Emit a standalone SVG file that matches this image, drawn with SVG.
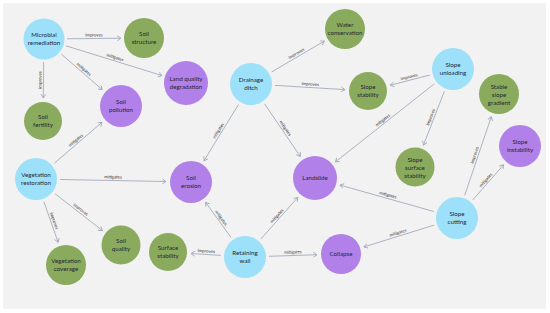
<svg xmlns="http://www.w3.org/2000/svg" width="550" height="313" viewBox="0 0 550 313">
<style>
.c{fill:#9de0f9}.g{fill:#8aab5e}.p{fill:#b180e9}
.n{font-family:Lato,"Open Sans","Liberation Sans",sans-serif;font-size:6.2px;fill:#1f2630;text-anchor:middle}
.e line{stroke:#a3aabb;stroke-width:0.9;marker-end:url(#ah)}
.l{font-family:Lato,"Open Sans","Liberation Sans",sans-serif;font-size:4.4px;fill:#333;text-anchor:middle}
</style>
<defs>
<marker id="ah" markerUnits="userSpaceOnUse" markerWidth="8" markerHeight="8" refX="4.2" refY="3" orient="auto">
<path d="M0.5,0.6 L4.2,3 L0.5,5.4" fill="none" stroke="#a3aabb" stroke-width="0.9"/>
</marker>
</defs>
<rect x="0" y="0" width="550" height="313" fill="#ffffff"/>
<rect x="3" y="3" width="543" height="306" fill="#f2f2f2"/>
<g id="connectors" class="e">
<line x1="67" y1="38.8" x2="121" y2="38.2"/>
<line x1="66" y1="45.8" x2="162" y2="75.6"/>
<line x1="61.3" y1="54.1" x2="102.2" y2="89.6"/>
<line x1="43.7" y1="62" x2="43.3" y2="98"/>
<line x1="54.2" y1="163.4" x2="102" y2="122.3"/>
<line x1="60" y1="179.5" x2="166" y2="181.5"/>
<line x1="55" y1="193.7" x2="102.4" y2="230.6"/>
<line x1="43.9" y1="201.7" x2="58.1" y2="242.3"/>
<line x1="271.7" y1="71.9" x2="324.3" y2="41.1"/>
<line x1="275" y1="85.4" x2="345" y2="89.6"/>
<line x1="238.5" y1="104.5" x2="204" y2="160.7"/>
<line x1="264.5" y1="103.8" x2="300.4" y2="156.5"/>
<line x1="429.8" y1="75" x2="390.3" y2="85.2"/>
<line x1="434.2" y1="83.9" x2="335.4" y2="161.9"/>
<line x1="444.3" y1="91.4" x2="423.5" y2="145.1"/>
<line x1="464.7" y1="195.3" x2="491.3" y2="116.7"/>
<line x1="472.8" y1="199.9" x2="503.6" y2="164.8"/>
<line x1="433.9" y1="211.5" x2="340" y2="185.1"/>
<line x1="434.1" y1="225.1" x2="363.9" y2="246.9"/>
<line x1="231" y1="237.5" x2="205.6" y2="202.3"/>
<line x1="260.9" y1="239" x2="297.8" y2="197.4"/>
<line x1="221" y1="255.4" x2="191" y2="253.5"/>
<line x1="269" y1="256.3" x2="317" y2="254.7"/>
<g id="edge-labels">
<text class="l" transform="translate(94,38.5) rotate(-0.6)" y="-2">improves</text>
<text class="l" transform="translate(114,60.7) rotate(17.2)" y="-2">mitigates</text>
<text class="l" transform="translate(81.7,71.9) rotate(41)" y="-2">mitigates</text>
<text class="l" transform="translate(43.5,80) rotate(-89.3)" y="-2">improves</text>
<text class="l" transform="translate(78.1,142.9) rotate(-40.65)" y="-2">mitigates</text>
<text class="l" transform="translate(113,180.5) rotate(1.1)" y="-2">mitigates</text>
<text class="l" transform="translate(78.7,212.2) rotate(37.8)" y="-2">improves</text>
<text class="l" transform="translate(51,222) rotate(70.8)" y="-2">improves</text>
<text class="l" transform="translate(298,56.5) rotate(-30.3)" y="-2">improves</text>
<text class="l" transform="translate(310,87.5) rotate(3.4)" y="-2">improves</text>
<text class="l" transform="translate(221.2,132.6) rotate(-58.5)" y="-2">mitigates</text>
<text class="l" transform="translate(282.5,130.2) rotate(55.7)" y="-2">mitigates</text>
<text class="l" transform="translate(410,80.1) rotate(-14.5)" y="-2">improves</text>
<text class="l" transform="translate(384.8,122.9) rotate(-38.3)" y="-2">mitigates</text>
<text class="l" transform="translate(433.9,118.3) rotate(-68.8)" y="-2">improves</text>
<text class="l" transform="translate(478,156) rotate(-71.3)" y="-2">improves</text>
<text class="l" transform="translate(488.2,182.4) rotate(-48.8)" y="-2">mitigates</text>
<text class="l" transform="translate(387,198.3) rotate(15.7)" y="-2">mitigates</text>
<text class="l" transform="translate(399,236) rotate(-17.2)" y="-2">mitigates</text>
<text class="l" transform="translate(218.3,219.9) rotate(54.2)" y="-2">mitigates</text>
<text class="l" transform="translate(279.4,218.2) rotate(-48.5)" y="-2">mitigates</text>
<text class="l" transform="translate(206,254.5) rotate(3.7)" y="-2">improves</text>
<text class="l" transform="translate(293,255.5) rotate(-1.8)" y="-2">mitigates</text>
</g>
</g>
<g id="microbial-remediation"><circle class="c" cx="44" cy="39" r="20.5"/><text class="n" x="44" y="37">Microbial</text><text class="n" x="44" y="45">remediation</text></g>
<g id="soil-structure"><circle class="g" cx="144" cy="38" r="20"/><text class="n" x="144" y="36">Soil</text><text class="n" x="144" y="44">structure</text></g>
<g id="land-quality-degradation"><circle class="p" cx="186" cy="83" r="22"/><text class="n" x="186" y="81">Land quality</text><text class="n" x="186" y="89">degradation</text></g>
<g id="soil-pollution"><circle class="p" cx="121" cy="106" r="21"/><text class="n" x="121" y="104">Soil</text><text class="n" x="121" y="112">pollution</text></g>
<g id="soil-fertility"><circle class="g" cx="43" cy="121" r="19"/><text class="n" x="43" y="119">Soil</text><text class="n" x="43" y="127">fertility</text></g>
<g id="vegetation-restoration"><circle class="c" cx="36" cy="179" r="21"/><text class="n" x="36" y="177">Vegetation</text><text class="n" x="36" y="185">restoration</text></g>
<g id="soil-erosion"><circle class="p" cx="191" cy="182" r="21"/><text class="n" x="191" y="180">Soil</text><text class="n" x="191" y="188">erosion</text></g>
<g id="vegetation-coverage"><circle class="g" cx="66" cy="265" r="20"/><text class="n" x="66" y="263">Vegetation</text><text class="n" x="66" y="271">coverage</text></g>
<g id="soil-quality"><circle class="g" cx="121" cy="245" r="19.5"/><text class="n" x="121" y="243">Soil</text><text class="n" x="121" y="251">quality</text></g>
<g id="surface-stability"><circle class="g" cx="168" cy="252" r="19"/><text class="n" x="168" y="250">Surface</text><text class="n" x="168" y="258">stability</text></g>
<g id="retaining-wall"><circle class="c" cx="245" cy="257" r="21"/><text class="n" x="245" y="255">Retaining</text><text class="n" x="245" y="263">wall</text></g>
<g id="drainage-ditch"><circle class="c" cx="251" cy="84" r="21"/><text class="n" x="251" y="82">Drainage</text><text class="n" x="251" y="90">ditch</text></g>
<g id="water-conservation"><circle class="g" cx="345" cy="29" r="20"/><text class="n" x="345" y="27">Water</text><text class="n" x="345" y="35">conservation</text></g>
<g id="slope-stability"><circle class="g" cx="368" cy="91" r="19"/><text class="n" x="368" y="89">Slope</text><text class="n" x="368" y="97">stability</text></g>
<g id="slope-unloading"><circle class="c" cx="453" cy="69" r="21"/><text class="n" x="453" y="67">Slope</text><text class="n" x="453" y="75">unloading</text></g>
<g id="stable-slope-gradient"><circle class="g" cx="499" cy="94" r="20"/><text class="n" x="499" y="88.5">Stable</text><text class="n" x="499" y="96.5">slope</text><text class="n" x="499" y="104.5">gradient</text></g>
<g id="slope-instability"><circle class="p" cx="520" cy="146" r="21"/><text class="n" x="520" y="144">Slope</text><text class="n" x="520" y="152">instability</text></g>
<g id="slope-surface-stability"><circle class="g" cx="415" cy="167" r="19.5"/><text class="n" x="415" y="161.5">Slope</text><text class="n" x="415" y="169.5">surface</text><text class="n" x="415" y="177.5">stability</text></g>
<g id="landslide"><circle class="p" cx="315" cy="178" r="22"/><text class="n" x="315" y="180.2">Landslide</text></g>
<g id="collapse"><circle class="p" cx="341" cy="254" r="20"/><text class="n" x="341" y="256.2">Collapse</text></g>
<g id="slope-cutting"><circle class="c" cx="457" cy="218" r="21"/><text class="n" x="457" y="216">Slope</text><text class="n" x="457" y="224">cutting</text></g>
</svg>
